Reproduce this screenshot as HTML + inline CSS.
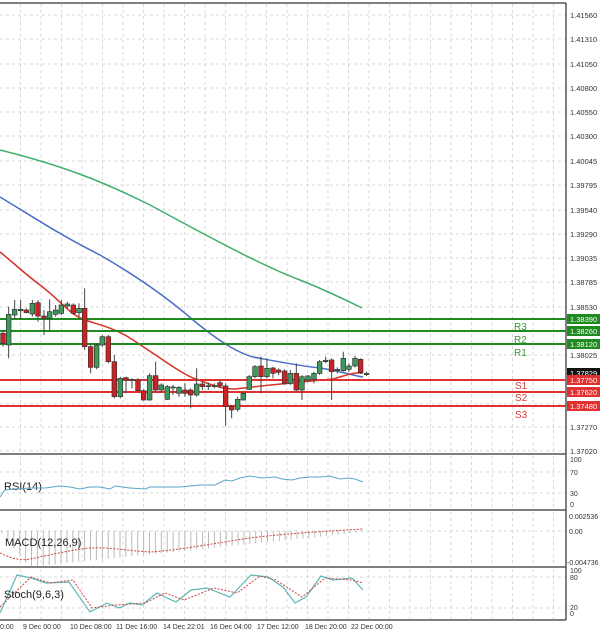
<!DOCTYPE html>
<html><head><meta charset="utf-8"><style>
html,body{margin:0;padding:0;background:#fff;}
svg{display:block;font-family:"Liberation Sans",sans-serif;}
</style></head><body>
<svg width="600" height="634" viewBox="0 0 600 634" xmlns="http://www.w3.org/2000/svg">
<rect width="600" height="634" fill="#fff"/>
<g id="grid" stroke="#d8d8d8" stroke-width="1" stroke-dasharray="3,3">
</g>
<script>
(function(){
var ns="http://www.w3.org/2000/svg",g=document.getElementById("grid");
function L(x1,y1,x2,y2){var l=document.createElementNS(ns,"line");l.setAttribute("x1",x1);l.setAttribute("y1",y1);l.setAttribute("x2",x2);l.setAttribute("y2",y2);g.appendChild(l);}
for(var x=20.5;x<566;x+=20.5){L(x,4,x,453);L(x,456,x,509);L(x,512,x,566);L(x,569,x,619);}
var ys=[15,39,64,88,112,136,161,185,210,234,258,282,307,331,355,380,404,427,451];
ys.forEach(function(y){L(0,y,566,y);});
[472,493].forEach(function(y){L(0,y,566,y);});
L(0,531,566,531);
[577,608].forEach(function(y){L(0,y,566,y);});
})();
</script>
<!-- frames -->
<g fill="none" stroke="#555" stroke-width="1.5">
<line x1="0" y1="3" x2="566" y2="3"/>
<line x1="566" y1="3" x2="566" y2="620"/>
<line x1="0" y1="454" x2="566" y2="454"/>
<line x1="0" y1="510" x2="566" y2="510"/>
<line x1="0" y1="567" x2="566" y2="567"/>
<line x1="0" y1="620" x2="566" y2="620"/>
</g>
<!-- MAs -->
<path d="M0,150 C60,165 100,180 150,205 C200,232 260,265 300,280 C330,292 350,302 362,308" fill="none" stroke="#3fae6c" stroke-width="1.5"/>
<path d="M0,197 C30,215 60,235 100,255 C140,278 170,300 193,320 C215,338 235,352 253,357 C280,362 300,366 320,368 C340,371 355,376 363,377" fill="none" stroke="#4a6fc8" stroke-width="1.5"/>
<path d="M0,252 C15,264 25,274 40,285 C60,300 70,315 85,320 C100,325 110,327 125,335 C150,350 175,370 193,378 C210,384 220,389 235,389 C260,386 300,382 333,379 C345,376 352,372 363,373" fill="none" stroke="#d93025" stroke-width="1.5"/>
<!-- S/R lines -->
<g stroke-width="2">
<line x1="0" y1="319" x2="566" y2="319" stroke="#1f8a1f"/>
<line x1="0" y1="331" x2="566" y2="331" stroke="#1f8a1f"/>
<line x1="0" y1="344" x2="566" y2="344" stroke="#1f8a1f"/>
<line x1="0" y1="380" x2="566" y2="380" stroke="#e03030"/>
<line x1="0" y1="392" x2="566" y2="392" stroke="#e03030"/>
<line x1="0" y1="406" x2="566" y2="406" stroke="#e03030"/>
</g>
<g font-size="10" fill="#3a9a3a"><text x="514" y="330">R3</text><text x="514" y="343">R2</text><text x="514" y="356">R1</text></g>
<g font-size="10" fill="#d04040"><text x="515" y="389">S1</text><text x="515" y="401">S2</text><text x="515" y="418">S3</text></g>
<!-- candles in zoom space -->
<g id="cd" transform="translate(0,280) scale(0.3333)"></g>
<script>
(function(){
var ns="http://www.w3.org/2000/svg",g=document.getElementById("cd");
var c=[[0,160,190,150,200,0],[17,103,195,80,235,1],[35,88,105,60,118,1],[53,88,92,60,118,1],[70,90,98,85,100,0],[88,70,102,60,110,1],[105,68,108,60,125,0],[123,108,115,90,165,0],[140,95,115,58,150,1],[158,90,103,75,110,1],[175,75,100,60,105,1],[193,72,78,65,85,1],[211,75,100,70,105,0],[228,85,98,70,110,1],[245,85,200,25,210,0],[263,200,262,195,280,0],[281,195,262,190,268,1],[298,170,195,165,200,1],[316,170,245,165,250,0],[334,245,350,225,355,0],[352,295,350,290,355,1],[369,293,300,290,340,0],[387,299,302,295,325,1],[405,300,332,295,335,0],[422,332,360,328,362,0],[440,287,360,280,362,1],[458,287,330,245,335,0],[475,315,330,310,335,1],[493,320,358,315,360,1],[510,321,324,315,345,1],[528,322,340,318,350,1],[546,330,340,310,350,0],[563,330,345,325,385,0],[581,312,345,265,350,1],[598,312,320,305,330,0],[616,317,320,308,330,1],[634,317,320,310,325,1],[651,308,318,300,325,0],[668,318,380,310,437,0],[686,380,390,375,415,0],[704,358,388,350,395,1],[721,340,360,335,362,1],[739,290,328,285,330,1],[756,260,290,255,295,1],[774,258,290,230,340,0],[792,265,290,235,295,1],[810,264,280,260,295,0],[827,270,277,265,285,0],[845,273,310,268,315,0],[862,280,310,270,315,1],[880,280,330,250,335,0],[897,290,330,285,360,1],[915,288,300,285,305,1],[933,280,298,275,310,1],[950,245,280,240,285,1],[968,241,245,230,250,1],[986,240,275,235,360,0],[1003,268,272,262,280,1],[1021,235,272,215,275,1],[1038,258,268,250,275,1],[1056,235,258,228,262,1],[1073,238,278,235,282,0],[1091,280,284,275,288,1]];
c.forEach(function(k){var x=k[0]+9,col=k[5]?"#3d9a5b":"#cc2222";
var l=document.createElementNS(ns,"line");l.setAttribute("x1",x);l.setAttribute("x2",x);l.setAttribute("y1",k[3]);l.setAttribute("y2",k[4]);l.setAttribute("stroke","#444");l.setAttribute("stroke-width","3");g.appendChild(l);
var r=document.createElementNS(ns,"rect");r.setAttribute("x",x-7);r.setAttribute("width",14);r.setAttribute("y",k[1]);r.setAttribute("height",Math.max(3,k[2]-k[1]));r.setAttribute("fill",col);r.setAttribute("stroke","#333");r.setAttribute("stroke-width","2");g.appendChild(r);});
})();
</script>
<!-- price axis -->
<g font-size="7.5" fill="#333">
<text x="570" y="18">1.41560</text><text x="570" y="42">1.41310</text><text x="570" y="67">1.41050</text>
<text x="570" y="91">1.40800</text><text x="570" y="115">1.40550</text><text x="570" y="139">1.40300</text>
<text x="570" y="164">1.40045</text><text x="570" y="188">1.39795</text><text x="570" y="213">1.39540</text>
<text x="570" y="237">1.39290</text><text x="570" y="261">1.39035</text><text x="570" y="285">1.38785</text>
<text x="570" y="310">1.38530</text><text x="570" y="358">1.38025</text><text x="570" y="430">1.37270</text>
<text x="570" y="454">1.37020</text>
</g>
<g font-size="7.5">
<rect x="567" y="314" width="33" height="10" fill="#1f8a1f"/><text x="570" y="322" fill="#fff">1.38390</text>
<rect x="567" y="326" width="33" height="10" fill="#1f8a1f"/><text x="570" y="334" fill="#fff">1.38260</text>
<rect x="567" y="339" width="33" height="10" fill="#1f8a1f"/><text x="570" y="347" fill="#fff">1.38120</text>
<rect x="567" y="368" width="33" height="10" fill="#111"/><text x="570" y="376" fill="#fff">1.37829</text>
<rect x="567" y="375" width="33" height="10" fill="#e03030"/><text x="570" y="383" fill="#fff">1.37750</text>
<rect x="567" y="387" width="33" height="10" fill="#e03030"/><text x="570" y="395" fill="#fff">1.37620</text>
<rect x="567" y="401" width="33" height="10" fill="#e03030"/><text x="570" y="409" fill="#fff">1.37480</text>
</g>
<!-- RSI -->
<text x="4" y="490" font-size="11" fill="#222">RSI(14)</text>
<path d="M0,497 L5,490 L15,489 L30,488 L45,488 L60,486 L70,487 L80,489 L90,487 L100,487 L110,489 L115,486 L130,488 L145,489 L150,487 L165,487 L180,487 L190,486 L200,485 L210,485 L215,485 L225,480 L232,481 L240,478 L250,476 L262,478 L275,477 L282,479 L292,480 L300,478 L310,477 L320,477 L330,476 L340,479 L348,478 L355,479 L363,482" fill="none" stroke="#5aa6c8" stroke-width="1"/>
<g font-size="7" fill="#333"><text x="570" y="462">100</text><text x="570" y="475">70</text><text x="570" y="496">30</text><text x="570" y="507">0</text></g>
<!-- MACD -->
<g id="hist" stroke="#bbb" stroke-width="1"></g>
<script>
(function(){var ns="http://www.w3.org/2000/svg",g=document.getElementById("hist");
for(var x=2;x<364;x+=5.9){var t=x/363;var d=t<0.08?36*t/0.08:36-(36)*(t-0.08)/0.95;var y2=531+Math.max(0,d);var l=document.createElementNS(ns,"line");l.setAttribute("x1",x);l.setAttribute("x2",x);l.setAttribute("y1",531);l.setAttribute("y2",y2.toFixed(1));g.appendChild(l);}})();
</script>
<path d="M0,553 C10,558 20,561 30,559 C50,555 70,550 90,548 C110,547 130,551 150,552 C180,550 210,544 250,538 C290,533 330,531 363,529" fill="none" stroke="#c44" stroke-width="1" stroke-dasharray="2,1.5"/>
<text x="5" y="546" font-size="11" fill="#222">MACD(12,26,9)</text>
<g font-size="7" fill="#333"><text x="569" y="519">0.002536</text><text x="569" y="534">0.00</text><text x="567" y="565">-0.004736</text></g>
<!-- Stoch -->
<path d="M0,613 L17,575 L31,578 L46,583 L69,582 L90,612 L107,603 L119,608 L130,603 L142,605 L157,593 L165,597 L176,602 L191,590 L207,588 L230,597 L251,575 L268,577 L283,587 L295,603 L306,597 L321,576 L333,580 L352,578 L363,590" fill="none" stroke="#5cb8b8" stroke-width="1.2"/>
<path d="M0,607 L31,577 L50,583 L73,580 L92,608 L115,605 L145,603 L165,593 L184,600 L214,588 L237,593 L260,576 L276,580 L302,597 L325,578 L352,580 L363,583" fill="none" stroke="#c44" stroke-width="1" stroke-dasharray="2,1.5"/>
<text x="4" y="598" font-size="11" fill="#222">Stoch(9,6,3)</text>
<g font-size="7" fill="#333"><text x="570" y="573">100</text><text x="570" y="580">80</text><text x="570" y="610">20</text><text x="570" y="616">0</text></g>
<!-- time axis -->
<g font-size="7" fill="#333">
<text x="0" y="629">0:00</text><text x="23" y="629">9 Dec 00:00</text><text x="70" y="629">10 Dec 08:00</text>
<text x="116" y="629">11 Dec 16:00</text><text x="163" y="629">14 Dec 22:01</text><text x="210" y="629">16 Dec 04:00</text>
<text x="257" y="629">17 Dec 12:00</text><text x="305" y="629">18 Dec 20:00</text><text x="351" y="629">22 Dec 00:00</text>
</g>
</svg>
</body></html>
